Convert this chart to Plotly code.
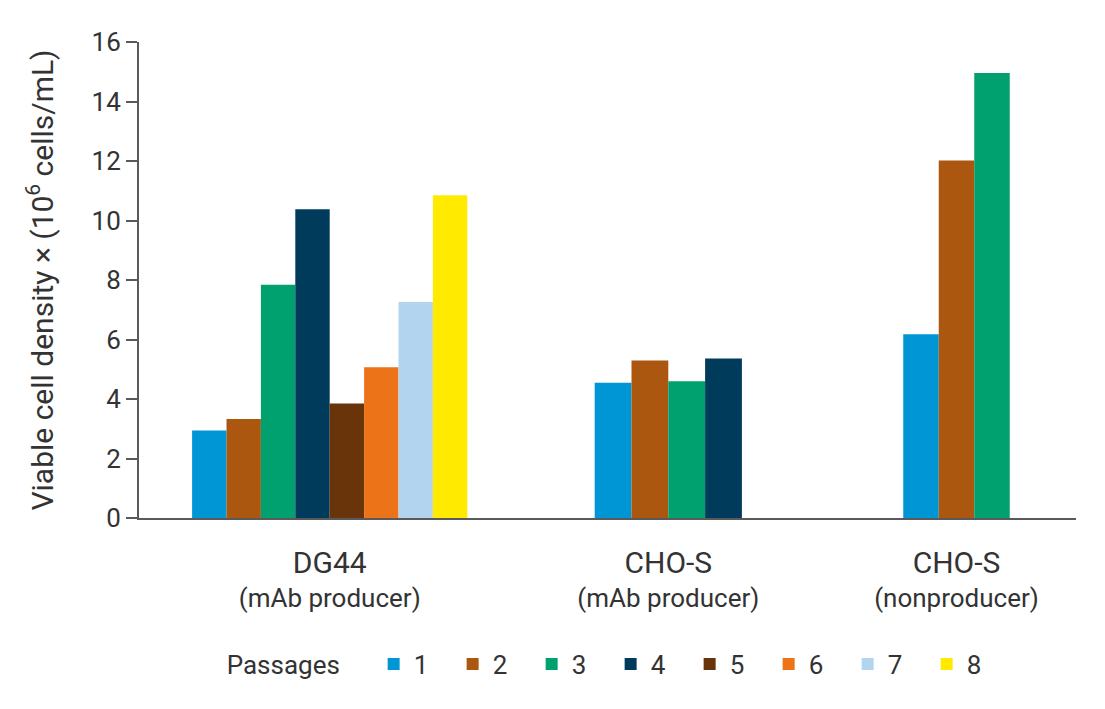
import plotly.graph_objects as go

# ---- data ----
cell_lines = ["DG44", "CHO-S", "CHO-S"]
cell_line_roles = ["(mAb producer)", "(mAb producer)", "(nonproducer)"]
passages = ["1", "2", "3", "4", "5", "6", "7", "8"]
dg44_mab = [2.94, 3.33, 7.84, 10.38, 3.85, 5.07, 7.26, 10.85]
chos_mab = [4.55, 5.29, 4.60, 5.36]
chos_non = [6.18, 12.02, 14.96]
y_ticks = [0, 2, 4, 6, 8, 10, 12, 14, 16]

group_values = [dg44_mab, chos_mab, chos_non]
colors = ["#0096D6", "#AB5710", "#00A06F", "#003B5C",
          "#693409", "#EC7318", "#B2D4EE", "#FFEA00"]

# ---- layout constants (x axis in plot-pixel units) ----
group_centers = [190.7, 529.3, 817.5]
group_bar_width = [34.4, 36.8, 35.5]
x_span = 937

FONT = "Roboto, Arial, sans-serif"
TXT = "#333333"
AX = "#5a5a5a"

fig = go.Figure()
for p, name in enumerate(passages):
    xs, ys, ws = [], [], []
    for g, vals in enumerate(group_values):
        if p < len(vals):
            n = len(vals)
            xs.append(group_centers[g] + (p - (n - 1) / 2) * group_bar_width[g])
            ys.append(vals[p])
            ws.append(group_bar_width[g])
    fig.add_trace(go.Bar(
        x=xs, y=ys, width=ws, name=name,
        marker=dict(color=colors[p], line=dict(width=0)),
    ))

ticktext = [f"<span style='font-size:30px'>{c}</span><br>{r}"
            for c, r in zip(cell_lines, cell_line_roles)]

fig.update_layout(
    width=1097, height=701,
    margin=dict(l=131, r=29, t=34, b=191),
    paper_bgcolor="white", plot_bgcolor="white",
    font=dict(family=FONT, color=TXT, size=26),
    barmode="overlay",
    showlegend=True,
    legend=dict(
        orientation="h",
        x=0.0914, xanchor="left",
        y=-0.307, yanchor="middle",
        title=dict(text="Passages" + "&nbsp;" * 4, side="left",
                   font=dict(size=26, color=TXT)),
        font=dict(size=26, color=TXT),
        entrywidth=34, entrywidthmode="pixels",
        bgcolor="rgba(0,0,0,0)",
    ),
    xaxis=dict(
        range=[0, x_span], showgrid=False, zeroline=False,
        showline=True, linecolor=AX, linewidth=2,
        tickvals=group_centers, ticktext=ticktext, ticks="",
        tickfont=dict(size=26, color=TXT),
        ticklabelstandoff=22,
    ),
    yaxis=dict(
        range=[0, 16], tickvals=y_ticks, showgrid=False, zeroline=False,
        showline=True, linecolor=AX, linewidth=2,
        ticks="outside", ticklen=11, tickwidth=2, tickcolor=AX,
        tickfont=dict(size=26, color=TXT),
        ticklabelstandoff=0,
        title=dict(text="Viable cell density × (10<sup>6</sup> cells/mL)",
                   font=dict(size=30, color=TXT), standoff=29),
    ),
)

fig.write_html("out.html")
